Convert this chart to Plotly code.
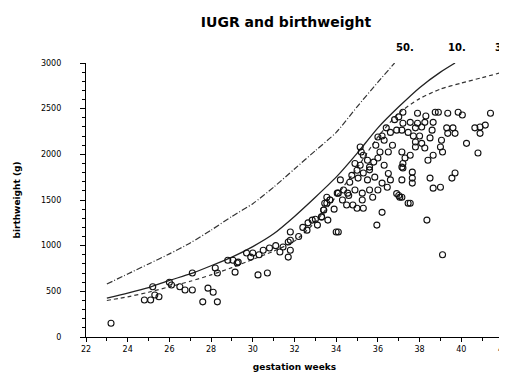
import plotly.graph_objects as go

# Scatter data: gestation (weeks) and birthweight (g)
weeks = [23.2, 24.8, 25.1, 25.2, 25.3, 25.5, 26.0, 26.1, 26.5, 26.75, 27.1, 27.1, 27.6, 27.85, 28.1, 28.3, 28.2, 28.3,
         28.8, 29.05, 29.15, 29.3, 29.25, 29.7, 29.9, 30.0, 30.25, 30.7, 30.5, 30.8, 31.45, 31.7, 31.8, 31.7, 31.8, 31.8,
         32.4, 32.65, 32.85, 33.1, 33.3, 33.4, 33.55, 33.7, 33.6, 34.0, 34.05, 37.2, 36.4, 36.6, 36.9, 36.3, 36.7, 36.5,
         36.1, 35.2, 36.0, 35.8, 35.5, 35.6, 35.15, 35.3, 35.0, 34.75, 34.65, 35.05, 35.5, 35.85, 36.2, 36.6, 37.15, 37.3,
         37.15, 34.2, 34.35, 34.1, 34.55, 34.9, 35.25, 35.6, 36.0, 36.45, 35.75, 35.25, 34.8, 34.5, 35.0, 35.3, 36.2, 37.05,
         37.45, 35.95, 34.1, 33.45, 33.4, 33.3, 33.55, 33.7, 37.9, 38.75, 38.9, 39.35, 39.85, 40.05, 41.4, 37.2, 37.55,
         37.9, 38.25, 38.65, 37.15, 37.45, 37.8, 38.1, 38.6, 39.3, 39.6, 39.35, 39.7, 40.65, 40.9, 41.15, 40.9, 38.5,
         39.05, 37.8, 38.1, 38.25, 37.8, 39.0, 39.1, 40.25, 40.8, 37.15, 37.55, 38.65, 38.4, 37.2, 37.2, 37.65, 37.65,
         37.65, 38.5, 38.65, 39.0, 39.55, 39.7, 37.15, 37.55, 38.35, 39.1, 30.3, 31.1, 31.3, 32.2, 32.6, 33.0, 33.9, 34.3,
         34.6, 35.9, 36.2, 36.0, 36.8, 37.0, 38.3, 38.0, 37.7, 37.0, 36.9, 35.15, 35.3, 35.6, 34.9, 36.3, 36.5]
grams = [150, 405, 405, 550, 460, 440, 600, 570, 550, 515, 515, 700, 385, 535, 490, 385, 755, 700,
         840, 840, 710, 820, 810, 920, 875, 920, 680, 700, 950, 975, 985, 1040, 950, 875, 1150, 1060,
         1200, 1250, 1280, 1225, 1315, 1390, 1465, 1500, 1280, 1150, 1575, 2460, 2290, 2240, 2265, 2155, 2100, 2025,
         2025, 2025, 1960, 1915, 1935, 1860, 1880, 1795, 1825, 1770, 1695, 1740, 1720, 1750, 1685, 1720, 1860, 1960,
         1720, 1720, 1610, 1575, 1575, 1610, 1575, 1610, 1610, 1640, 1530, 1500, 1445, 1445, 1410, 1410, 1365, 1530,
         1465, 1225, 1150, 1465, 1390, 1315, 1530, 1500, 2450, 2460, 2460, 2450, 2460, 2430, 2450, 2340, 2350,
         2340, 2350, 2350, 2265, 2240, 2290, 2300, 2265, 2290, 2290, 2230, 2230, 2290, 2230, 2320, 2300, 2180,
         2155, 2135, 2120, 2070, 2080, 2080, 2025, 2120, 2015, 2025, 1990, 1990, 1935, 1900, 1850, 1805, 1740,
         1685, 1740, 1630, 1640, 1740, 1795, 1530, 1465, 1280, 900, 900, 1000, 930, 1100, 1170, 1290, 1400, 1500,
         1550, 2100, 2200, 2190, 2380, 2410, 2420, 2200, 2200, 1550, 1570, 2080, 1990, 1830, 1900, 1880, 1790]

# Percentile curves
p50_weeks = [23, 24, 25, 26, 27, 28, 29, 30, 31, 32, 33, 34, 35, 36, 36.8]
p50_grams = [580, 690, 800, 910, 1030, 1170, 1320, 1460, 1640, 1840, 2040, 2240, 2520, 2790, 3000]
p10_weeks = [23, 24, 25, 26, 27, 28, 29, 30, 31, 32, 33, 34, 35, 36, 37, 38, 39, 39.7]
p10_grams = [425, 480, 540, 620, 690, 780, 875, 990, 1130, 1320, 1530, 1750, 2010, 2290, 2520, 2730, 2900, 3000]
p3_weeks = [23, 24, 25, 26, 27, 28, 29, 30, 31, 32, 33, 34, 35, 36, 37, 38, 39, 40, 41, 42]
p3_grams = [400, 440, 490, 550, 610, 680, 760, 850, 940, 1050, 1260, 1540, 1850, 2190, 2450, 2610, 2715, 2780, 2840, 2900]

curve_labels = ["50.", "10."]
curve_label_weeks = [37.3, 39.8]
last_label = "3"

x_ticks = [22, 24, 26, 28, 30, 32, 34, 36, 38, 40, 42]
y_ticks = [0, 500, 1000, 1500, 2000, 2500, 3000]

FONT = "DejaVu Sans"

fig = go.Figure()
fig.add_trace(go.Scatter(x=p50_weeks, y=p50_grams, mode="lines", line=dict(color="#333", width=1.2, dash="6px,2px,1px,2px", shape="spline", smoothing=0.6), cliponaxis=False))
fig.add_trace(go.Scatter(x=p10_weeks, y=p10_grams, mode="lines", line=dict(color="#222", width=1.3, shape="spline", smoothing=0.6), cliponaxis=False))
fig.add_trace(go.Scatter(x=p3_weeks, y=p3_grams, mode="lines", line=dict(color="#333", width=1.2, dash="4px,3px", shape="spline", smoothing=0.6), cliponaxis=False))
fig.add_trace(go.Scatter(x=weeks, y=grams, mode="markers", cliponaxis=False,
                         marker=dict(symbol="circle-open", size=6, color="#111", line=dict(width=1.1, color="#111"))))

for txt, xv in zip(curve_labels, curve_label_weeks):
    fig.add_annotation(x=xv, xref="x", y=1.058, yref="paper", text="<b>" + txt + "</b>", showarrow=False,
                       xanchor="center", yanchor="middle",
                       font=dict(family=FONT, size=10, color="#000"))
fig.add_annotation(x=1.0, xref="paper", y=1.058, yref="paper", text="<b>" + last_label + "</b>", showarrow=False,
                   xanchor="right", yanchor="middle", borderpad=0,
                   font=dict(family=FONT, size=10, color="#000"))

# page body has an 8px margin, so the figure is 499x366 to fill the 507x374 window
fig.update_layout(
    width=499, height=366,
    margin=dict(l=78, r=4, t=55, b=37, autoexpand=False),
    paper_bgcolor="white", plot_bgcolor="white",
    showlegend=False,
    title=dict(text="<b>IUGR and birthweight</b>", x=278 / 499, xanchor="center", y=1 - 14 / 366, yanchor="middle",
               font=dict(family=FONT, size=14, color="#000")),
    xaxis=dict(range=[22, 42], tickvals=x_ticks, ticks="outside", ticklen=4, tickwidth=1, tickcolor="#000",
               showline=True, linecolor="#000", linewidth=1.2, showgrid=False, zeroline=False,
               minor=dict(dtick=1, ticks="outside", ticklen=3, tickcolor="#000", showgrid=False),
               tickfont=dict(family=FONT, size=8, color="#000"), tickprefix="<b>", ticksuffix="</b>",
               ticklabelstandoff=0, ticklabeloverflow="allow", automargin=False,
               title=dict(text="<b>gestation weeks</b>", font=dict(family=FONT, size=9, color="#000"), standoff=10)),
    yaxis=dict(range=[0, 3000], tickvals=y_ticks, ticks="outside", ticklen=5, tickwidth=1, tickcolor="#000",
               showline=True, linecolor="#000", linewidth=1.2, showgrid=False, zeroline=False,
               minor=dict(dtick=100, ticks="outside", ticklen=3, tickcolor="#000", showgrid=False),
               tickfont=dict(family=FONT, size=8, color="#000"), tickprefix="<b>", ticksuffix="</b>",
               ticklabelstandoff=17, automargin=False,
               title=dict(text="<b>birthweight (g)</b>", font=dict(family=FONT, size=9, color="#000"), standoff=18)),
)

fig.write_html("out.html")
